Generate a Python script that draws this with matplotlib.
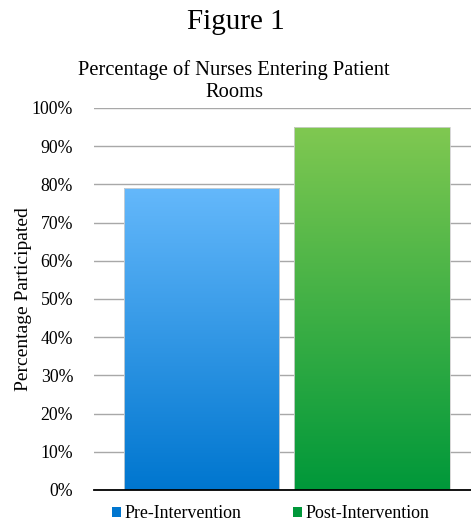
import numpy as np
import matplotlib.pyplot as plt
from matplotlib.colors import LinearSegmentedColormap
from matplotlib.patches import Patch

# data
categories = ["Pre-Intervention", "Post-Intervention"]
values = [79, 95]
yticks = [0, 10, 20, 30, 40, 50, 60, 70, 80, 90, 100]

# gradient colours (top, bottom)
grads = [("#64b8fb", "#0076cf"), ("#80c851", "#00983a")]

plt.rcParams['font.family'] = ['Liberation Serif', 'DejaVu Serif']

fig = plt.figure(figsize=(4.71, 5.24), dpi=100)
ax = fig.add_axes([0.1996, 0.0649, 0.8004, 0.729])

x = np.arange(len(categories))
bars = ax.bar(x, values, width=0.91, color="none", edgecolor="#d0d0d0",
              linewidth=0.6, zorder=3)

# fill each bar with a vertical gradient
grad = np.linspace(0, 1, 256).reshape(-1, 1)
for b, (top, bot) in zip(bars, grads):
    cmap = LinearSegmentedColormap.from_list("g", [bot, top])
    x0, w, h = b.get_x(), b.get_width(), b.get_height()
    im = ax.imshow(grad, cmap=cmap, origin="lower", aspect="auto",
                   extent=[x0, x0 + w, 0, h], zorder=2)
    im.set_clip_path(b)

ax.set_xlim(-0.63, 1.58)
ax.set_ylim(0, 100)
ax.set_yticks(yticks)
ax.set_yticklabels([f"{t}%" for t in yticks], fontsize=12.8)
ax.set_xticks([])
ax.tick_params(axis="y", length=0, pad=15)
ax.yaxis.grid(True, color="#a8a8a8", linewidth=1.0, zorder=0)
ax.set_axisbelow(True)
for s in ["left", "right", "top"]:
    ax.spines[s].set_visible(False)
ax.spines["bottom"].set_linewidth(1.3)
ax.spines["bottom"].set_zorder(4)

ax.set_ylabel("Percentage Participated", fontsize=14, labelpad=0)

fig.text(0.5, 0.958, "Figure 1", ha="center", va="center", fontsize=21)
fig.text(0.497, 0.845, "Percentage of Nurses Entering Patient\nRooms",
         ha="center", va="center", fontsize=14.8, linespacing=1.18)

handles = [Patch(facecolor=c[1], edgecolor="none") for c in grads]
fig.legend(handles, categories, loc="center", bbox_to_anchor=(0.575, 0.02),
           ncol=2, frameon=False, fontsize=12.9, handlelength=0.5,
           handleheight=0.5, handletextpad=0.2, columnspacing=2.9)

fig.savefig("out.png", dpi=100)
